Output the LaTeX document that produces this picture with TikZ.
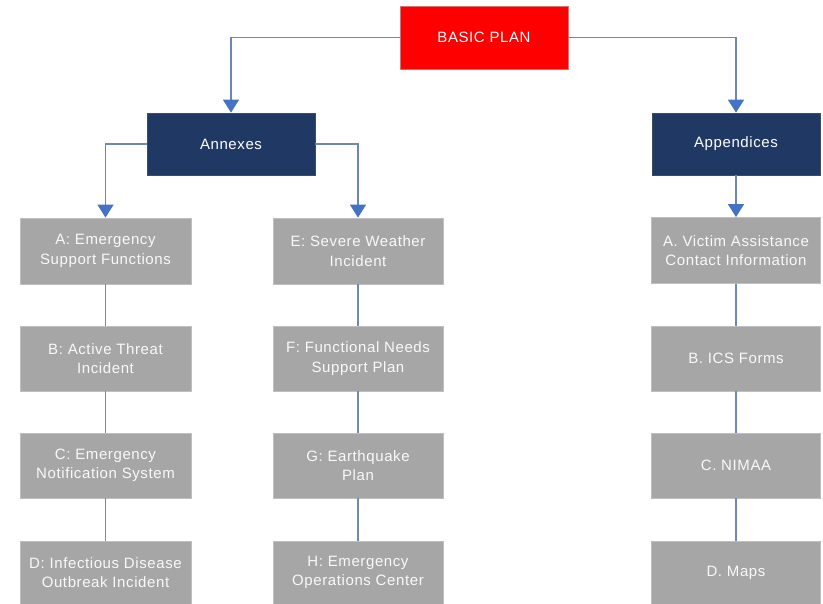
\documentclass[tikz,border=0pt]{standalone}
\usepackage{fontspec}
\setmainfont{Liberation Sans}[LetterSpace=4]
\usetikzlibrary{arrows.meta,positioning}
\definecolor{redbox}{HTML}{FF0000}
\definecolor{navy}{HTML}{1F3864}
\definecolor{greybox}{HTML}{A6A6A6}
\definecolor{greyedge}{HTML}{BFBFBF}
\definecolor{link}{HTML}{4472C4}
\definecolor{linkline}{HTML}{6C86B8}
\definecolor{plainlink}{HTML}{7088B4}
\tikzset{
  box/.style={minimum width=170pt,minimum height=65pt,inner sep=0pt,align=center,
    text=white,font=\fontsize{15}{19.5}\selectfont},
  topbox/.style={box,fill=redbox,draw=red!60!gray!70,line width=0.8pt},
  headbox/.style={box,fill=navy,draw=navy!70!gray,line width=0.8pt,minimum width=168pt,minimum height=62pt},
  itembox/.style={box,fill=greybox,draw=greyedge,line width=0.8pt,text=white!95!gray},
  arrowlink/.style={draw=linkline,line width=1.5pt,-{Triangle[width=16pt,length=13pt,fill=link,color=link]}},
  plainlink/.style={draw=plainlink,line width=1.5pt}
}
\begin{document}
\begin{tikzpicture}[x=1pt,y=-1pt]
\useasboundingbox (0,0) rectangle (823,604);
\node[topbox,minimum width=168pt,minimum height=63pt] (basic) at (484,37.5) {BASIC PLAN};
\node[headbox] (annex) at (231,144) {Annexes};
\node[headbox] (appx) at (736,144) {Appendices};
% column A
\node[itembox,minimum width=171pt,minimum height=66pt] (a) at (105.5,251) {A: Emergency\\Support Functions};
\node[itembox,minimum width=171pt] (b) at (105.5,358.5) {B: Active Threat\\Incident};
\node[itembox,minimum width=171pt] (c) at (105.5,465.5) {C: Emergency\\Notification System};
\node[itembox,minimum width=171pt,minimum height=63pt] (d) at (105.5,572.5) {D: Infectious Disease\\Outbreak Incident};
% column E
\node[itembox,minimum height=66pt] (e) at (358,251) {E: Severe Weather\\Incident};
\node[itembox] (f) at (358,358.5) {F: Functional Needs\\Support Plan};
\node[itembox] (g) at (358,465.5) {G: Earthquake\\Plan};
\node[itembox,minimum height=63pt] (h) at (358,572.5) {H: Emergency\\Operations Center};
% appendices column
\node[itembox,minimum width=169pt,minimum height=66pt] (pa) at (736,250.5) {A. Victim Assistance\\Contact Information};
\node[itembox,minimum width=169pt] (pb) at (736,358.5) {B. ICS Forms};
\node[itembox,minimum width=169pt] (pc) at (736,465.5) {C. NIMAA};
\node[itembox,minimum width=169pt,minimum height=63pt] (pd) at (736,572.5) {D. Maps};
% connectors
\draw[arrowlink] (basic.west) -| (annex.north);
\draw[arrowlink] (basic.east) -| (appx.north);
\draw[arrowlink] (annex.west) -| (a.north);
\draw[arrowlink] (annex.east) -| (e.north);
\draw[arrowlink] (appx.south) -- (pa.north);
\draw[plainlink] (a) -- (b);
\draw[plainlink] (b) -- (c);
\draw[plainlink] (c) -- (d);
\draw[plainlink] (e) -- (f);
\draw[plainlink] (f) -- (g);
\draw[plainlink] (g) -- (h);
\draw[plainlink] (pa) -- (pb);
\draw[plainlink] (pb) -- (pc);
\draw[plainlink] (pc) -- (pd);
\end{tikzpicture}
\end{document}
